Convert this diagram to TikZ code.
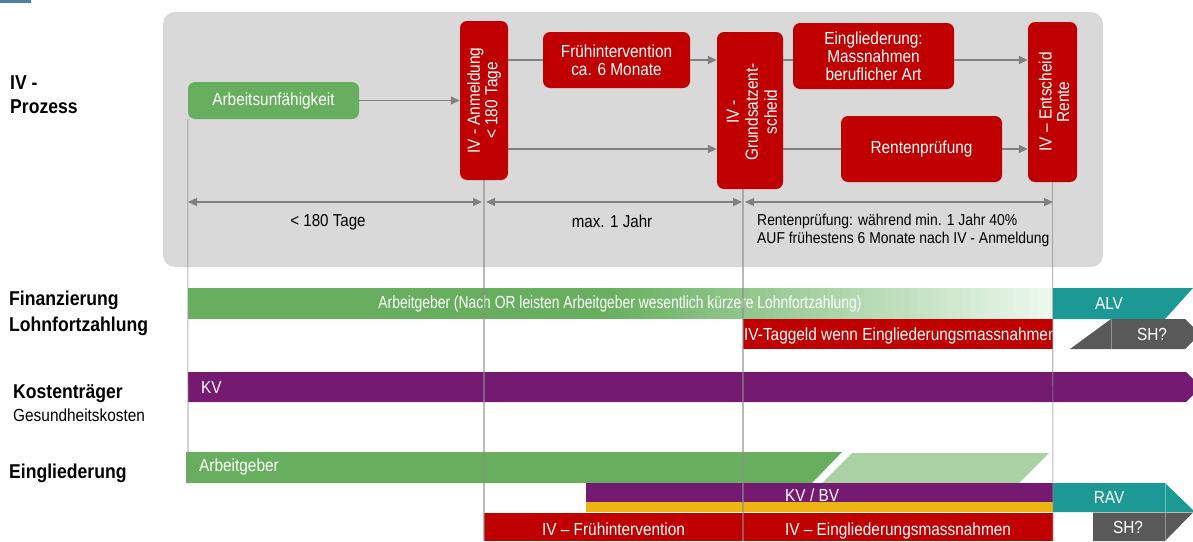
\documentclass[tikz,border=0pt]{standalone}
\usepackage{fontspec}
\setmainfont{Liberation Sans}[FakeStretch=0.88]
\usetikzlibrary{arrows.meta}
\definecolor{grn}{RGB}{103,175,94}
\definecolor{fadegrn}{RGB}{236,248,238}
\definecolor{ltgrn}{RGB}{169,209,163}
\definecolor{ivred}{RGB}{192,0,0}
\definecolor{purp}{RGB}{116,27,113}
\definecolor{tealc}{RGB}{28,153,148}
\definecolor{shgray}{RGB}{89,89,89}
\definecolor{yel}{RGB}{236,181,20}
\definecolor{boxgray}{RGB}{217,217,217}
\definecolor{arrgray}{RGB}{128,128,128}
\definecolor{vgray}{RGB}{140,140,140}
\definecolor{topblue}{RGB}{79,126,166}
\newcommand\myfs{\fontsize{17.5}{17.5}\selectfont}
\newcommand\myhdr{\fontsize{20}{22}\selectfont\bfseries}
\newcommand\mydim{\fontsize{17.2}{18}\selectfont}
\newcommand\mysm{\fontsize{15.8}{18}\selectfont}
\begin{document}
\begin{tikzpicture}[x=1pt,y=-1pt,
  proc/.style={fill=ivred, rounded corners=7pt, text=white, font=\myfs, align=center, inner sep=0pt},
  rot/.style={rotate=90, text=white, align=center, font=\myfs, inner sep=0pt},
  flow/.style={draw=arrgray, line width=1.4pt, -{Triangle[length=9pt,width=8pt]}},
  plainflow/.style={draw=arrgray, line width=1.4pt},
  dimarrow/.style={draw=arrgray, line width=1.4pt, {Triangle[length=9pt,width=8pt]}-{Triangle[length=9pt,width=8pt]}},
  vline/.style={draw=vgray, line width=1.1pt, opacity=0.6},
  hdr/.style={font=\myhdr, anchor=base west, inner sep=0pt},
  bartext/.style={text=white, font=\myfs, inner sep=0pt},
  dimtext/.style={font=\mydim, anchor=base, inner sep=0pt},
  sepline/.style={draw=white, opacity=0.35, line width=0.7pt}]
\useasboundingbox (0,0) rectangle (1193,541);
\clip (0,0) rectangle (1193,541);
% top-left mark
\fill[topblue] (0,0) rectangle (31,3);
% process container
\fill[boxgray, rounded corners=12pt] (163,12) rectangle (1103,267);
% left headers
\node[hdr] (h1) at (10,89) {IV -};
\node[hdr] (h1b) at (10,113) {Prozess};
\node[hdr] (h2) at (9,305) {Finanzierung};
\node[hdr] (h2b) at (9,331) {Lohnfortzahlung};
\node[hdr] (h3) at (13,398) {Kostenträger};
\node[font=\myfs, anchor=base west, inner sep=0pt] (h3b) at (13,421) {Gesundheitskosten};
\node[hdr] (h4) at (9,478) {Eingliederung};
% process nodes
\node[proc, fill=grn, minimum width=171pt, minimum height=37pt] (au) at (273.5,100.5) {Arbeitsunfähigkeit};
\node[proc, minimum width=48pt, minimum height=159pt] (anm) at (484,100.5) {};
\node[rot] (anmT) at (anm.center) {IV - Anmeldung\\< 180 Tage};
\node[proc, minimum width=147pt, minimum height=56pt] (frueh) at (616.5,60) {Frühintervention\\ca. 6 Monate};
\node[proc, minimum width=66pt, minimum height=157pt] (gse) at (750,110.5) {};
\node[rot, font=\fontsize{17.5}{19}\selectfont] (gseT) at (752,112) {IV -\\Grundsatzent-\\scheid};
\node[proc, minimum width=161pt, minimum height=66pt, font=\fontsize{17.5}{18}\selectfont] (eing) at (873.5,56) {Eingliederung:\\Massnahmen\\beruflicher Art};
\node[proc, minimum width=161pt, minimum height=66pt] (rp) at (921.5,149) {Rentenprüfung};
\node[proc, minimum width=49pt, minimum height=160pt] (ent) at (1052.5,102) {};
\node[rot] (entT) at (1054,102) {IV – Entscheid\\Rente};
% flow connectors
\draw[flow] (au.east) -- (au.east -| anm.west);
\draw[plainflow] (anm.east |- frueh.west) -- (frueh.west);
\draw[flow] (frueh.east) -- (frueh.east -| gse.west);
\draw[flow] (anm.east |- rp.west) -- (gse.west |- rp.west);
\draw[plainflow] (gse.east |- frueh.east) -- (eing.west |- frueh.east);
\draw[flow] (eing.east |- frueh.east) -- (ent.west |- frueh.east);
\draw[plainflow] (gse.east |- rp.west) -- (rp.west);
\draw[flow] (rp.east) -- (rp.east -| ent.west);
% dimension lines
\coordinate (d0) at (188,202);
\coordinate (d1) at (484,202);
\coordinate (d2) at (743,202);
\coordinate (d3) at (1053,202);
\draw[dimarrow, shorten >=2pt] (d0) -- (d1);
\draw[dimarrow, shorten <=2pt, shorten >=1pt] (d1) -- (d2);
\draw[dimarrow, shorten <=2pt] (d2) -- (d3);
\node[dimtext] (t1) at (328,226) {< 180 Tage};
\node[dimtext] (t2) at (612,227) {max. 1 Jahr};
\node[font=\mysm, anchor=base west, inner sep=0pt] (t3) at (757,225.5) {Rentenprüfung: während min. 1 Jahr 40\%};
\node[font=\mysm, anchor=base west, inner sep=0pt] (t3b) at (757,243.5) {AUF frühestens 6 Monate nach IV - Anmeldung};
% Finanzierung row (green fading to white)
\fill[grn] (188,288) rectangle (601,319);
\foreach \i in {0,...,59}{
  \pgfmathsetmacro\xa{600+\i*7.55}
  \pgfmathsetmacro\xb{min(600+(\i+1)*7.55+0.6,1053)}
  \pgfmathsetmacro\pc{100-\i*1.6949}
  \fill[grn!\pc!fadegrn] (\xa,288) rectangle (\xb,319);
}
\node[bartext] (agfin) at (620,303.5) {\scalebox{0.9}[1]{Arbeitgeber (Nach OR leisten Arbeitgeber wesentlich kürzere Lohnfortzahlung)}};
\fill[tealc] (1053,288) -- (1193,288) -- (1165,319) -- (1053,319) -- cycle;
\node[bartext] (alv) at (1109,303.5) {ALV};
\fill[ivred] (743,319) rectangle (1053,349);
\begin{scope}
\clip (743,319) rectangle (1053,349);
\node[bartext, anchor=base west] (tg) at (744,340) {IV-Taggeld wenn Eingliederungsmassnahmen};
\end{scope}
\fill[shgray] (1070,349) -- (1111,319) -- (1185,319) -- (1200,334) -- (1185,349) -- cycle;
\draw[sepline] (1111,319) -- (1111,349);
\node[bartext] (sh1) at (1152,334) {SH?};
% Kostentraeger row
\fill[purp] (188,372) -- (1186,372) -- (1201,387) -- (1186,402) -- (188,402) -- cycle;
\node[bartext, anchor=west] (kv) at (201,387) {KV};
% Eingliederung row
\fill[grn] (186,452) -- (842,452) -- (812,483) -- (186,483) -- cycle;
\node[bartext, anchor=west] (agein) at (199,467) {Arbeitgeber};
\fill[ltgrn] (852,453) -- (1049,453) -- (1019,483) -- (822,483) -- cycle;
\fill[purp] (586,483) rectangle (1053,502);
\fill[yel] (586,502) rectangle (1053,512);
\node[bartext, anchor=base west] (kvbv) at (785,501.5) {KV / BV};
\fill[tealc] (1053,483) -- (1165,483) -- (1195,512) -- (1053,512) -- cycle;
\draw[sepline] (1165,483) -- (1165,512);
\node[bartext] (rav) at (1109,497.5) {RAV};
\fill[ivred] (484,512.5) rectangle (743,541);
\fill[ivred] (743,512.5) rectangle (1053,541);
\node[bartext, anchor=base] (ivf) at (613.5,535) {IV – Frühintervention};
\node[bartext, anchor=base] (ive) at (898,535) {IV – Eingliederungsmassnahmen};
\fill[shgray] (1093,512.5) -- (1193,512.5) -- (1165,541) -- (1093,541) -- cycle;
\draw[sepline] (1165,512.5) -- (1165,541);
\node[bartext] (sh2) at (1128,527) {SH?};
% vertical time markers
\coordinate (b0) at (188,483);
\coordinate (b1) at (484,541);
\coordinate (b2) at (743,541);
\coordinate (b3) at (1053,541);
\coordinate (g2) at (743,189);
\draw[vline] (au.south west) -- (b0);
\draw[vline] (anm.south) -- (b1);
\draw[vline] (g2) -- (b2);
\draw[vline] (ent.south) -- (b3);
\end{tikzpicture}
\end{document}
